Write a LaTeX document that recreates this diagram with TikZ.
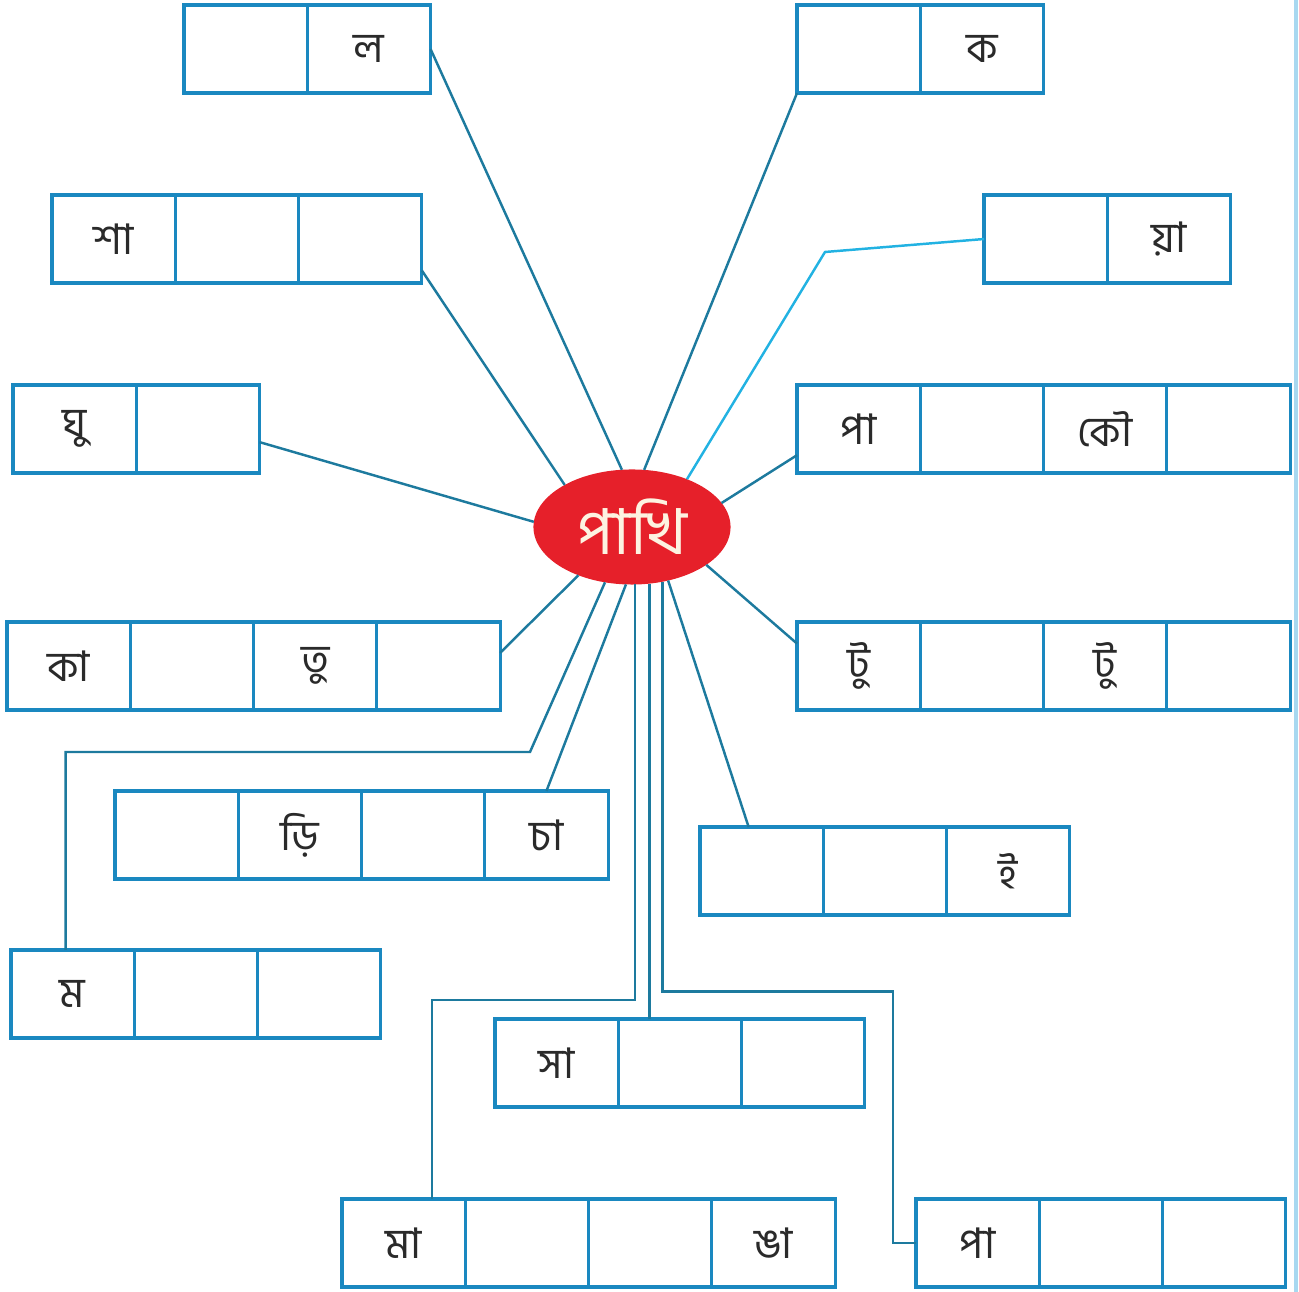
\documentclass[tikz,border=0pt]{standalone}
\usepackage{fontspec}
\newfontfamily\bnfont[Script=Bengali]{Hind Siliguri}
\usetikzlibrary{positioning,shapes.geometric}
\definecolor{boxblue}{HTML}{1A88C0}
\definecolor{linkteal}{HTML}{1D7A9E}
\definecolor{linkcyan}{HTML}{22B2E2}
\definecolor{hubred}{HTML}{E6202A}
\definecolor{hubtext}{HTML}{FDF3E1}
\definecolor{edgeblue}{HTML}{A8D8F0}
\definecolor{inkgrey}{HTML}{2A2A2A}
\tikzset{
  cell/.style = {draw = boxblue, line width = .9pt, rectangle,
                 minimum width = 1.232cm, minimum height = .88cm,
                 inner sep = 0pt, outer sep = 0pt, text = inkgrey,
                 font = \bnfont\fontsize{12}{14}\selectfont},
  hub/.style = {ellipse, fill = hubred, text = hubtext,
                minimum width = 1.97cm, minimum height = 1.15cm,
                inner sep = 0pt, outer sep = 0pt,
                font = \bnfont\fontsize{18}{22}\selectfont},
  link/.style = {draw = linkteal, line width = .7pt}
}
\begin{document}
\begin{tikzpicture}[x = .01cm, y = -.01cm, node distance = 0pt]
  \useasboundingbox (0,0) rectangle (1299,1292);
  \draw [edgeblue, line width = .9pt] (1296,0) -- (1296,1292);

  % centre
  \node [hub] (hub) at (632,527) {পাখি};

  % boxes, left column
  \node [cell, anchor = north west] (la1) at (184,5) {};
  \node [cell, right = of la1] (la2) {ল};

  \node [cell, anchor = north west] (sha1) at (52,195) {শা};
  \node [cell, right = of sha1] (sha2) {};
  \node [cell, right = of sha2] (sha3) {};

  \node [cell, anchor = north west] (ghu1) at (13,385) {ঘু};
  \node [cell, right = of ghu1] (ghu2) {};

  \node [cell, anchor = north west] (ka1) at (7,622) {কা};
  \node [cell, right = of ka1] (ka2) {};
  \node [cell, right = of ka2] (ka3) {তু};
  \node [cell, right = of ka3] (ka4) {};

  \node [cell, anchor = north west] (cha1) at (115,791) {};
  \node [cell, right = of cha1] (cha2) {ড়ি};
  \node [cell, right = of cha2] (cha3) {};
  \node [cell, right = of cha3] (cha4) {চা};

  \node [cell, anchor = north west] (mo1) at (11,950) {ম};
  \node [cell, right = of mo1] (mo2) {};
  \node [cell, right = of mo2] (mo3) {};

  % boxes, right column
  \node [cell, anchor = north west] (kk1) at (797,5) {};
  \node [cell, right = of kk1] (kk2) {ক};

  \node [cell, anchor = north west] (ya1) at (984,195) {};
  \node [cell, right = of ya1] (ya2) {য়া};

  \node [cell, anchor = north west] (pa1) at (797,385) {পা};
  \node [cell, right = of pa1] (pa2) {};
  \node [cell, right = of pa2] (pa3) {কৌ};
  \node [cell, right = of pa3] (pa4) {};

  \node [cell, anchor = north west] (tu1) at (797,622) {টু};
  \node [cell, right = of tu1] (tu2) {};
  \node [cell, right = of tu2] (tu3) {টু};
  \node [cell, right = of tu3] (tu4) {};

  \node [cell, anchor = north west] (ii1) at (700,827) {};
  \node [cell, right = of ii1] (ii2) {};
  \node [cell, right = of ii2] (ii3) {ই};

  % boxes, bottom
  \node [cell, anchor = north west] (sa1) at (495,1019) {সা};
  \node [cell, right = of sa1] (sa2) {};
  \node [cell, right = of sa2] (sa3) {};

  \node [cell, anchor = north west] (maa1) at (342,1199) {মা};
  \node [cell, right = of maa1] (maa2) {};
  \node [cell, right = of maa2] (maa3) {};
  \node [cell, right = of maa3] (maa4) {ঙা};

  \node [cell, anchor = north west] (pb1) at (916,1199) {পা};
  \node [cell, right = of pb1] (pb2) {};
  \node [cell, right = of pb2] (pb3) {};

  % spokes
  \draw [link] (la2.east) -- (hub.100);
  \draw [link] (kk1.south west) -- (hub.78);
  \draw [link] (sha3.-27) -- (hub.148);
  \draw [link, draw = linkcyan] (ya1.west) -- (825,252) -- (hub.41);
  \draw [link] (ghu2.-12) -- (hub.177);
  \draw [link] (pa1.-157) -- (hub.15);
  \draw [link] (ka4.12) -- (hub.-138);
  \draw [link] (tu1.160) -- (hub.-27);
  \draw [link] (hub.-116.6) -- (530,752) -| ([xshift = -.07cm]mo1.north);
  \draw [link] (hub.-96.5) -- (cha4.north);
  \draw [link] (hub.-87) -- ++(0,415.5) -| ([xshift = .9cm]maa1.north west);
  \draw [link] (hub.-73.3) -- (hub.-73.3 |- sa2.north);
  \draw [link] (hub.-61.3) -- ++(0,410) -| ([xshift = -.23cm]pb1.west)
    -- (pb1.west);
  \draw [link] (hub.-56) -- ([xshift = -.13cm]ii1.north);
\end{tikzpicture}
\end{document}
